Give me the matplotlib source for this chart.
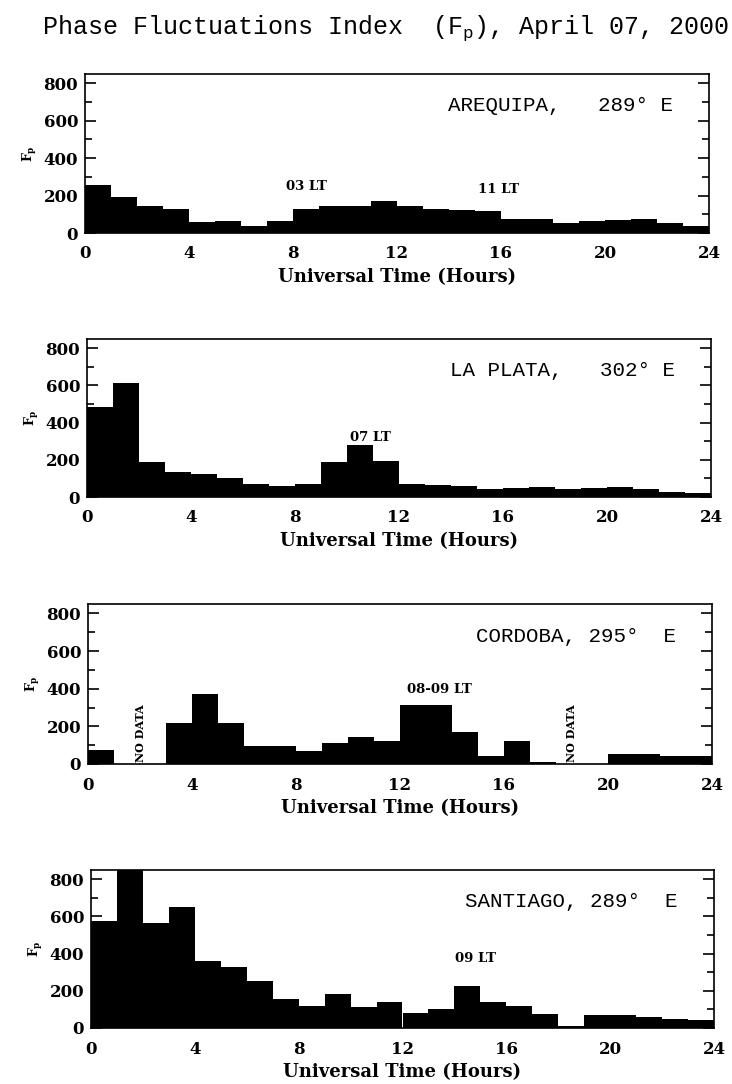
import numpy as np
import matplotlib
matplotlib.use("Agg")
import matplotlib.pyplot as plt
from matplotlib.ticker import MultipleLocator

plt.rcParams['font.family'] = ['DejaVu Serif']

# hourly Fp values, 0-24 UT (one bar per hour)
hours = np.arange(24)
arequipa = [255, 195, 142, 127, 58, 62, 38, 62, 130, 147, 142, 170,
            143, 127, 122, 119, 76, 76, 54, 62, 68, 76, 54, 38]
la_plata = [485, 612, 187, 133, 126, 101, 68, 59, 68, 187, 281, 196,
            70, 65, 60, 45, 50, 55, 45, 50, 55, 45, 25, 20]
cordoba = [75, 0, 0, 220, 372, 220, 93, 98, 70, 111, 143, 123,
           315, 315, 170, 40, 120, 8, 0, 0, 55, 55, 40, 40]
santiago = [578, 860, 566, 649, 358, 327, 254, 155, 120, 185, 111, 140,
            83, 104, 228, 142, 121, 78, 10, 69, 69, 57, 48, 43]

stations = ["AREQUIPA,   289° E", "LA PLATA,   302° E",
            "CORDOBA, 295°  E", "SANTIAGO, 289°  E"]
series = [arequipa, la_plata, cordoba, santiago]
# (text, hour, value) for local-time notes
lt_notes = [("03 LT", 8.5, 250), ("07 LT", 10.9, 320),
            ("08-09 LT", 13.5, 395), ("09 LT", 14.8, 375)]
lt_notes2 = [("11 LT", 15.9, 235), None, None, None]
no_data = [2.0, 18.6]

# axes boxes in pixels: left, right, top, bottom
boxes = [(85, 709, 74, 233), (87, 711, 339, 497),
         (88, 712, 604, 764), (91, 714, 870, 1028)]
W, H = 732, 1084
mono = ["Liberation Mono", "DejaVu Sans Mono"]

fig = plt.figure(figsize=(W / 100, H / 100), dpi=100)
fig.text(0.527, 1 - 28 / H, r"Phase Fluctuations Index  (F$_\mathregular{p}$), April 07, 2000",
         ha="center", va="center", fontsize=18, family=mono)

for i, (vals, name) in enumerate(zip(series, stations)):
    l, r, t, b = boxes[i]
    ax = fig.add_axes([l / W, 1 - b / H, (r - l) / W, (b - t) / H])
    ax.bar(hours, vals, width=1.0, align="edge", color="black", linewidth=0)
    ax.set_xlim(0, 24)
    ax.set_ylim(0, 850)
    ax.xaxis.set_major_locator(MultipleLocator(4))
    ax.yaxis.set_major_locator(MultipleLocator(200))
    ax.yaxis.set_minor_locator(MultipleLocator(100))
    ax.tick_params(axis="y", which="both", direction="in", right=True, width=1.2)
    ax.tick_params(axis="y", which="major", length=8, pad=5)
    ax.tick_params(axis="y", which="minor", length=5)
    ax.tick_params(axis="x", direction="in", length=0, pad=9)
    ax.tick_params(labelsize=12)
    for lab in ax.get_xticklabels() + ax.get_yticklabels():
        lab.set_fontweight("bold")
    for s in ax.spines.values():
        s.set_linewidth(1.2)
    ax.set_xlabel("Universal Time (Hours)", fontsize=13, fontweight="bold", labelpad=4)
    ax.set_ylabel(r"F$_\mathregular{p}$", fontsize=9, fontweight="bold", labelpad=3)
    ax.text(22.6, 680, name, ha="right", va="center", fontsize=15, family=mono)
    txt, hx, hy = lt_notes[i]
    ax.text(hx, hy, txt, ha="center", va="center", fontsize=9.5, fontweight="bold")
    if lt_notes2[i]:
        txt, hx, hy = lt_notes2[i]
        ax.text(hx, hy, txt, ha="center", va="center", fontsize=9.5, fontweight="bold")
    if i == 2:
        for hx in no_data:
            ax.text(hx, 10, "NO DATA", rotation=90, ha="center", va="bottom",
                    fontsize=8, fontweight="bold")

fig.savefig("out.png", dpi=100)
